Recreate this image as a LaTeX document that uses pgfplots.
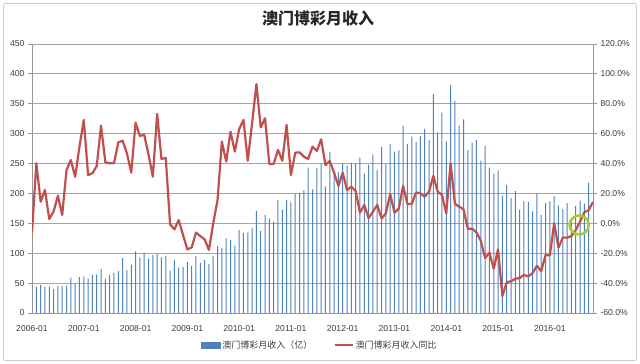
\documentclass[border=0pt]{standalone}
\usepackage{pgfplots}
\pgfplotsset{compat=1.18}
\usepackage{pgfplotstable}
\usepackage{fontspec}
\setmainfont{Liberation Sans}
\newfontfamily\cjk{Noto Sans CJK SC}
\definecolor{barblue}{RGB}{79,129,189}
\definecolor{linered}{RGB}{192,80,77}
\definecolor{gridgray}{RGB}{165,165,165}
\definecolor{axgray}{RGB}{150,150,150}
\definecolor{txt}{RGB}{60,60,60}
\definecolor{hlgreen}{RGB}{165,205,45}

\pgfplotstableread{
m rev
1 44
2 47
3 44
4 44
5 40
6 45
7 46
8 46
9 59
10 49
11 60
12 61
13 58
14 64
15 64
16 74
17 57
18 64
19 67
20 70
21 92
22 72
23 81
24 103
25 93
26 101
27 91
28 97
29 99
30 93
31 96
32 71
33 89
34 76
35 77
36 85
37 79
38 95
39 84
40 89
41 82
42 95
43 112
44 109
45 125
46 122
47 113
48 139
49 134
50 135
51 142
52 171
53 137
54 164
55 158
56 153
57 189
58 173
59 189
60 185
61 199
62 201
63 205
64 243
65 207
66 243
67 249
68 212
69 269
70 235
71 236
72 250
73 247
74 251
75 250
76 260
77 233
78 248
79 265
80 239
81 278
82 250
83 283
84 270
85 272
86 313
87 283
88 295
89 286
90 296
91 308
92 289
93 366
94 302
95 335
96 287
97 381
98 355
99 313
100 324
101 273
102 285
103 289
104 255
105 280
106 243
107 233
108 238
109 196
110 214
111 192
112 204
113 173
114 187
115 186
116 170
117 200
118 164
119 184
120 187
121 196
122 180
123 174
124 184
125 158
126 179
127 188
128 183
129 218
}\revtable

\pgfplotstableread{
m yoy
0 -6.2
1 40.2
2 14.5
3 22.3
4 2.9
5 7.8
6 18.5
7 5.6
8 35.7
9 42.4
10 31.2
11 51.3
12 69.2
13 32.3
14 33.5
15 38.4
16 65.4
17 40.8
18 40.2
19 40.2
20 54.2
21 55.3
22 46.8
23 33.9
24 67.4
25 58.4
26 59.3
27 46.0
28 31.2
29 73.2
30 43.1
31 43.7
32 -0.7
33 -4.0
34 2.2
35 -7.8
36 -17.4
37 -16.1
38 -6.2
39 -8.5
40 -10.7
41 -17.8
42 0.0
43 15.6
44 54.7
45 41.3
46 61.3
47 48.0
48 63.0
49 69.2
50 41.9
51 67.0
52 93.2
53 64.2
54 70.3
55 39.7
56 39.7
57 49.1
58 41.9
59 65.8
60 32.3
61 47.3
62 47.5
63 44.6
64 43.1
65 51.3
66 48.4
67 56.2
68 39.0
69 41.7
70 33.9
71 25.0
72 33.9
73 22.3
74 24.5
75 21.6
76 7.1
77 12.3
78 3.5
79 7.8
80 12.3
81 3.3
82 6.7
83 19.6
84 7.1
85 10.0
86 25.0
87 12.9
88 12.9
89 20.7
90 20.1
91 17.8
92 21.2
93 31.7
94 21.2
95 19.0
96 6.6
97 40.3
98 13.1
99 11.2
100 9.3
101 -3.7
102 -3.6
103 -6.1
104 -11.7
105 -23.2
106 -19.6
107 -30.4
108 -17.4
109 -48.6
110 -39.4
111 -38.8
112 -37.1
113 -36.6
114 -34.5
115 -35.5
116 -33.3
117 -28.4
118 -32.0
119 -21.2
120 -21.4
121 0.1
122 -16.3
123 -9.5
124 -9.6
125 -8.5
126 -4.5
127 1.1
128 7.4
129 8.8
130 14.4
}\yoytable

\begin{document}
\begin{tikzpicture}[x=1pt,y=1pt]
\useasboundingbox (0,0) rectangle (640,364);
\draw[gray!40, line width=0.8pt, rounded corners=2pt] (3.5,3.5) rectangle (636.5,360.5);
\node[font=\cjk\bfseries\fontsize{16}{18}\selectfont, text=black!85] at (318,346) {澳门博彩月收入};
\begin{axis}[
  at={(32pt,51pt)}, anchor=south west, scale only axis, width=561pt, height=269pt,
  xmin=0, xmax=130, ymin=0, ymax=450,
  axis y line*=left, axis x line*=bottom,
  ytick={0,50,...,450}, xtick={0,12,...,120},
  xticklabels={2006-01,2007-01,2008-01,2009-01,2010-01,2011-01,2012-01,2013-01,2014-01,2015-01,2016-01},
  ymajorgrids, grid style={gridgray, line width=0.8pt},
  axis line style={axgray, line width=0.8pt},
  tick align=outside, major tick length=4pt,
  ytick style={axgray, line width=0.8pt}, xtick style={draw=none},
  ticklabel style={font=\fontsize{8.6}{10}\selectfont, text=txt},
  /pgf/number format/assume math mode=true,
  xticklabel style={yshift=-5pt},
]
\addplot[ybar, bar width=1.0pt, fill=barblue, draw=none] table[x=m,y=rev]{\revtable};
\end{axis}
\begin{axis}[
  at={(32pt,51pt)}, anchor=south west, scale only axis, width=561pt, height=269pt,
  xmin=0, xmax=130, ymin=-60, ymax=120,
  axis y line*=right, axis x line=none,
  ytick={-60,-40,...,120},
  yticklabel={\pgfmathprintnumber[assume math mode=true,fixed,fixed zerofill,precision=1]{\tick}\%},
  axis line style={axgray, line width=0.8pt},
  tick align=outside, major tick length=4pt,
  ytick style={axgray, line width=0.8pt},
  ticklabel style={font=\fontsize{8.6}{10}\selectfont, text=txt},
  legend style={at={(0.513,-0.119)}, anchor=center, draw=none, fill=none,
    font=\cjk\fontsize{9}{11}\selectfont, text=txt,
    /tikz/every even column/.append style={column sep=20pt}},
  legend columns=2, legend cell align=left,
]
\addlegendimage{legend image code/.code={\fill[barblue] (0pt,-3pt) rectangle (19pt,3pt);}}
\addlegendentry{澳门博彩月收入（亿）}
\addplot[linered, line width=2.2pt, line join=round, no markers] table[x=m,y=yoy]{\yoytable};
\addlegendentry{澳门博彩月收入同比}
\draw[hlgreen, line width=2.6pt] (axis cs:126.8,-1.1) circle[radius=9.5pt];
\end{axis}
\end{tikzpicture}
\end{document}
